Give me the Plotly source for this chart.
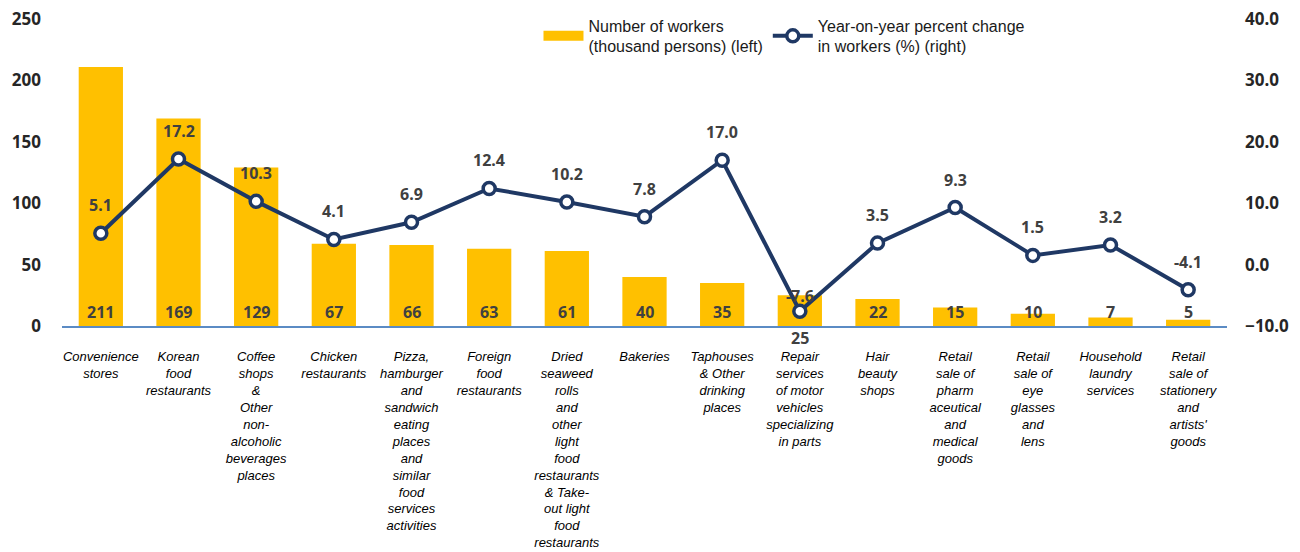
import plotly.graph_objects as go

categories = [
    "Convenience<br>stores",
    "Korean<br>food<br>restaurants",
    "Coffee<br>shops<br>&<br>Other<br>non-<br>alcoholic<br>beverages<br>places",
    "Chicken<br>restaurants",
    "Pizza,<br>hamburger<br>and<br>sandwich<br>eating<br>places<br>and<br>similar<br>food<br>services<br>activities",
    "Foreign<br>food<br>restaurants",
    "Dried<br>seaweed<br>rolls<br>and<br>other<br>light<br>food<br>restaurants<br>& Take-<br>out light<br>food<br>restaurants",
    "Bakeries",
    "Taphouses<br>& Other<br>drinking<br>places",
    "Repair<br>services<br>of motor<br>vehicles<br>specializing<br>in parts",
    "Hair<br>beauty<br>shops",
    "Retail<br>sale of<br>pharm<br>aceutical<br>and<br>medical<br>goods",
    "Retail<br>sale of<br>eye<br>glasses<br>and<br>lens",
    "Household<br>laundry<br>services",
    "Retail<br>sale of<br>stationery<br>and<br>artists'<br>goods",
]
workers = [211, 169, 129, 67, 66, 63, 61, 40, 35, 25, 22, 15, 10, 7, 5]
yoy_change = [5.1, 17.2, 10.3, 4.1, 6.9, 12.4, 10.2, 7.8, 17.0, -7.6, 3.5, 9.3, 1.5, 3.2, -4.1]

BAR_NAME = "Number of workers<br>(thousand persons) (left)"
LINE_NAME = "Year-on-year percent change<br>in workers (%) (right)"

BAR_COLOR = "#FFC000"
LINE_COLOR = "#1F3864"
LABEL_COLOR = "#404040"
LABEL_FONT = dict(family="Noto Sans", size=16, color=LABEL_COLOR, weight="bold")

fig = go.Figure()

fig.add_trace(go.Bar(
    x=categories, y=workers,
    name=BAR_NAME,
    marker=dict(color=BAR_COLOR, line=dict(width=0)),
    width=0.57,
    yaxis="y",
    showlegend=False,
))

# legend-only entry so the bar key is drawn as a wide block like the original
fig.add_trace(go.Scatter(
    x=[None], y=[None],
    name=BAR_NAME,
    mode="lines",
    line=dict(color=BAR_COLOR, width=12),
    yaxis="y",
))

fig.add_trace(go.Scatter(
    x=categories, y=yoy_change,
    name=LINE_NAME,
    mode="lines+markers",
    line=dict(color=LINE_COLOR, width=4),
    marker=dict(size=12, color="white", line=dict(color=LINE_COLOR, width=3.5)),
    yaxis="y2",
))

annotations = []
# bar value labels near the base of each bar
for cat, val in zip(categories, workers):
    shift = -12 if val == 25 else 14  # the 25 label sits below the axis
    annotations.append(dict(
        x=cat, y=0, xref="x", yref="y", text=str(val),
        showarrow=False, yshift=shift, font=LABEL_FONT,
    ))
# line value labels above the markers
for cat, val in zip(categories, yoy_change):
    shift = 15 if val == -7.6 else 28
    annotations.append(dict(
        x=cat, y=val, xref="x", yref="y2", text=f"{val:.1f}",
        showarrow=False, yshift=shift, font=LABEL_FONT,
    ))

tick_font = dict(family="Noto Sans", size=17, color="#262626", weight="bold")

# page body adds an 8px offset, margins account for it
fig.update_layout(
    width=1300, height=552,
    margin=dict(l=54, r=81, t=11, b=234, autoexpand=False),
    paper_bgcolor="white",
    plot_bgcolor="white",
    bargap=0.43,
    showlegend=True,
    legend=dict(
        orientation="h",
        x=0.409, xanchor="left",
        y=1.034, yanchor="top",
        font=dict(family="Liberation Sans, Arial", size=16, color="#1a1a1a"),
        bgcolor="rgba(0,0,0,0)",
        itemwidth=40,
        traceorder="normal",
    ),
    xaxis=dict(
        showline=True, linecolor="#5b8bc4", linewidth=1.5,
        showgrid=False, ticks="",
        tickangle=0,
        tickfont=dict(family="Liberation Sans, Arial", size=13, color="#000000", style="italic"),
        ticklabelstandoff=18,
        range=[-0.5, len(categories) - 0.5],
    ),
    yaxis=dict(
        range=[0, 250], dtick=50,
        showgrid=False, zeroline=False, showline=False,
        tickfont=tick_font,
        ticklabelstandoff=20,
        ticklabeloverflow="allow",
    ),
    yaxis2=dict(
        range=[-10, 40], dtick=10, tickformat=".1f",
        overlaying="y", side="right",
        showgrid=False, zeroline=False, showline=False,
        tickfont=tick_font,
        ticklabelstandoff=17,
        ticklabeloverflow="allow",
    ),
    annotations=annotations,
)

fig.write_html("out.html")
